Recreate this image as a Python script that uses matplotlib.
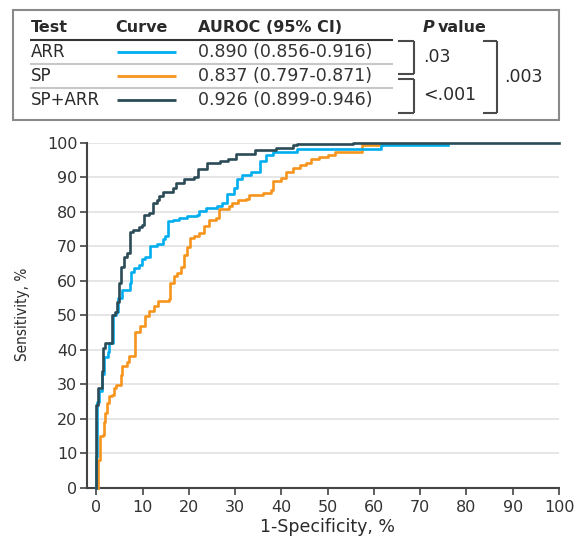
import matplotlib
matplotlib.use("Agg")
import matplotlib.pyplot as plt
from matplotlib.lines import Line2D
from matplotlib.patches import Rectangle

# ROC curves (1-specificity %, sensitivity %)
arr_x = [0, 0, 0.2, 0.6, 1.2, 1.6, 2.5, 2.8, 3.5, 4.2, 4.75, 5.5, 7.2, 7.5, 8.2, 9.1,
         9.8, 10.5, 11.6, 13.1, 14.3, 14.9, 15.5, 16.5, 17.8, 19.6, 21.8, 22.1, 23.6,
         26.1, 27.2, 28.3, 29.7, 30.3, 31.5, 33.4, 35.4, 36.6, 38.1, 43.3, 61.6, 76]
arr_y = [0, 9, 25, 28, 33, 38, 39.5, 42, 50, 51, 55, 57.2, 59.3, 62.5, 63.6, 64.5,
         66.3, 67, 70.1, 70.6, 72, 73, 77.2, 77.7, 78.2, 78.7, 79, 80.1, 81.2,
         81.6, 82.5, 85.1, 86.9, 89.6, 90.7, 91.5, 94.6, 96.3, 97.2, 98.1, 99.2, 99.2]

sp_x = [0.3, 0.3, 0.7, 1.5, 1.7, 1.85, 2.2, 2.6, 3.3, 3.7, 4.2, 5.3, 5.6, 6.6, 7.1, 8.2,
        8.4, 9.5, 10.4, 11.4, 12.4, 13.4, 15.6, 16.0, 16.7, 17.4, 18.2, 18.9, 19.6,
        20.3, 21.1, 22.1, 23.2, 24.3, 25.8, 26.5, 28.7, 29.4, 30.5, 32.3, 33.0, 35.9,
        37.7, 38.1, 39.9, 41.0, 42.4, 43.9, 45.3, 46.4, 48.2, 50.0, 51.5, 57.5, 61.8]
sp_y = [0, 8, 15, 15.3, 19.2, 21.6, 24.5, 26.5, 27, 29, 29.8, 32.8, 35.2, 36.6, 38.1, 38.3,
        45.3, 46.8, 49.7, 51.4, 52.6, 54.3, 54.8, 59.3, 61.3, 62.2, 64.1, 67.5, 69.9,
        72.4, 72.9, 73.8, 75.8, 77.7, 78.1, 80.9, 81.6, 82.5, 83.4, 83.8, 84.9, 85.4,
        86.4, 88.8, 89.8, 91.5, 92.7, 93.4, 94.1, 95.4, 96.0, 96.5, 97.3, 99.3, 99.3]

both_x = [0, 0, 0.4, 1.1, 1.5, 1.85, 3.3, 4.0, 4.5, 4.8, 5.3, 6.0, 6.5, 7.3, 8.0, 9.1,
          9.8, 10.3, 11.3, 12.2, 13.1, 13.6, 14.3, 16.6, 17.1, 18.9, 21.0, 21.9, 23.9,
          26.8, 28.5, 30.2, 34.3, 38.8, 42.4, 43.3, 55.5, 100]
both_y = [0, 24, 29, 34, 40.5, 42, 50, 51, 54, 59.5, 64, 67, 68, 74, 74.8, 75.5,
          76.2, 79, 79.6, 82.5, 83.5, 84.5, 85.7, 86.8, 88.3, 89.5, 90.2, 92.5, 94.1,
          94.7, 95.4, 96.8, 97.9, 98.5, 99.2, 99.6, 100, 100]

tests = ["ARR", "SP", "SP+ARR"]
auroc = ["0.890 (0.856-0.916)", "0.837 (0.797-0.871)", "0.926 (0.899-0.946)"]
colors = ["#00aeef", "#f7941d", "#2b4b57"]
p_pair = [".03", "<.001"]
p_outer = ".003"

W, H = 574, 537
fig = plt.figure(figsize=(W / 100, H / 100), dpi=100)
plt.rcParams['font.family'] = ['DejaVu Sans']
txt = "#2a2a2a"


def fx(x):
    return x / W


def fy(y):
    return 1 - y / H


def hline(x0, x1, y, color, lw):
    fig.add_artist(Line2D([fx(x0), fx(x1)], [fy(y), fy(y)], color=color, lw=lw,
                          solid_capstyle='butt'))


def vline(x, y0, y1, color, lw):
    fig.add_artist(Line2D([fx(x), fx(x)], [fy(y0), fy(y1)], color=color, lw=lw,
                          solid_capstyle='butt'))


# legend table at top
fig.add_artist(Rectangle((fx(12.5), fy(120)), fx(559) - fx(12.5), fy(10) - fy(120),
                         fill=False, ec="#8a8a8a", lw=1.5))
hdr = dict(fontsize=11.5, fontweight='bold', color=txt, va='center')
fig.text(fx(31), fy(28), "Test", **hdr)
fig.text(fx(115), fy(28), "Curve", **hdr)
fig.text(fx(198), fy(28), "AUROC (95% CI)", **hdr)
fig.text(fx(423), fy(28), "P", fontstyle='italic', **hdr)
fig.text(fx(438), fy(28), "value", **hdr)
hline(30, 393, 40.3, "#333333", 1.5)

row_y = [51.7, 76, 100]
for i in range(3):
    fig.text(fx(31), fy(row_y[i]), tests[i], fontsize=12, color=txt, va='center')
    hline(117, 176, row_y[i], colors[i], 2)
    fig.text(fx(198), fy(row_y[i]), auroc[i], fontsize=12.5, color="#333333", va='center')
for y in [64, 88.3]:
    hline(30, 393, y, "#c8c8c8", 1.5)

bc = "#4a4a4a"
for y0, y1 in [(40.7, 74), (78.7, 112.7)]:
    hline(398, 414, y0, bc, 1.5)
    hline(398, 414, y1, bc, 1.5)
    vline(414, y0, y1, bc, 1.5)
hline(482.7, 496.7, 40.7, bc, 1.5)
hline(482.7, 496.7, 112.7, bc, 1.5)
vline(496.7, 40.7, 112.7, bc, 1.5)
fig.text(fx(423), fy(57), p_pair[0], fontsize=12.5, color=txt, va='center')
fig.text(fx(423), fy(95), p_pair[1], fontsize=12.5, color=txt, va='center')
fig.text(fx(504), fy(76.7), p_outer, fontsize=12.5, color=txt, va='center')

# ROC plot
ax = fig.add_axes([fx(87), fy(488), fx(559) - fx(87), fy(142.7) - fy(488)])
ax.step(sp_x, sp_y, where='post', color=colors[1], lw=1.9, clip_on=False, zorder=3)
ax.step(arr_x, arr_y, where='post', color=colors[0], lw=1.9, clip_on=False, zorder=4)
ax.step(both_x, both_y, where='post', color=colors[2], lw=1.9, clip_on=False, zorder=5)

ax.set_xlim(-2.05, 100)
ax.set_ylim(0, 100)
ax.set_xticks(range(0, 101, 10))
ax.set_yticks(range(0, 101, 10))
ax.yaxis.grid(True, color="#e2e2e2", lw=1.2)
ax.set_axisbelow(True)
for s in ['top', 'right']:
    ax.spines[s].set_visible(False)
for s in ['left', 'bottom']:
    ax.spines[s].set_color("#444444")
    ax.spines[s].set_linewidth(1.5)
ax.tick_params(axis='both', direction='out', length=5, width=1.2, color="#444444",
               labelsize=11.5, labelcolor="#333333")
ax.tick_params(axis='x', pad=4)
ax.tick_params(axis='y', pad=2)

fig.text(fx(328), fy(527), "1-Specificity, %", fontsize=12.5, color=txt,
         ha='center', va='center')
fig.text(fx(23), fy(314), "Sensitivity, %", fontsize=11, color=txt, rotation=90,
         ha='center', va='center', fontstretch='condensed')

fig.savefig("out.png", dpi=100)
